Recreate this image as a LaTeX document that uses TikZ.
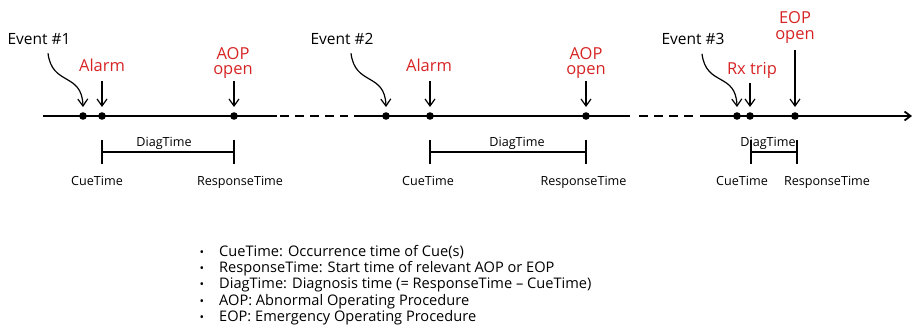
\documentclass[tikz,border=0pt]{standalone}
\usepackage{fontspec}
\setmainfont{Open Sans}
\usetikzlibrary{arrows.meta,calc}
\definecolor{cuered}{RGB}{214,36,36}
\begin{document}
\begin{tikzpicture}[x=1pt,y=-1pt,
  axis/.style={line width=1.8pt},
  gapline/.style={line width=1.8pt, dash pattern=on 8.5pt off 6.5pt},
  dot/.style={circle, fill=black, inner sep=0pt, minimum size=7.6pt},
  pointer/.style={line width=1.2pt, -{Straight Barb[length=7pt,width=10pt]}},
  bracket/.style={line width=1.2pt},
  evtext/.style={inner sep=0pt, font=\fontsize{15.5}{18}\selectfont},
  redtext/.style={inner sep=0pt, text=cuered, align=center, font=\fontsize{16.5}{15.7}\selectfont},
  small/.style={inner sep=0pt, font=\fontsize{12.6}{14}\selectfont},
  listtext/.style={inner sep=0pt, anchor=base west, font=\fontsize{14.6}{16}\selectfont},
  bullet/.style={inner sep=0pt, anchor=base, font=\fontsize{12}{14}\selectfont}
]
\useasboundingbox (0,0) rectangle (914,331);

% time axis: solid stretches joined by dashed gaps
\coordinate (a0) at (43,116);
\coordinate (a1) at (277,116);
\coordinate (a2) at (280,116);
\coordinate (a3) at (348,116);
\coordinate (a4) at (354,116);
\coordinate (a5) at (630,116);
\coordinate (a6) at (639,116);
\coordinate (a7) at (694,116);
\coordinate (a8) at (700,116);
\coordinate (a9) at (912,116);
\draw[axis] (a0) -- (a1);
\draw[gapline] (a2) -- (a3);
\draw[axis] (a4) -- (a5);
\draw[gapline] (a6) -- (a7);
\draw[axis, -{Straight Barb[length=6pt,width=9pt]}] (a8) -- (a9);

% event, cue and response instants
\node[dot] (e1) at (83,116) {};
\node[dot] (c1) at (102,116) {};
\node[dot] (r1) at (234,116) {};
\node[dot] (e2) at (386,116) {};
\node[dot] (c2) at (430,116) {};
\node[dot] (r2) at (586,116) {};
\node[dot] (e3) at (737,116) {};
\node[dot] (c3) at (750,116) {};
\node[dot] (r3) at (795,116) {};

% labels above the axis
\node[evtext, anchor=base] (ev1) at (39,44.3) {Event \#1};
\node[evtext, anchor=base] (ev2) at (342,44.3) {Event \#2};
\node[evtext, anchor=base] (ev3) at (693,44.8) {Event \#3};
\node[redtext, anchor=base] (al1) at (102,71.7) {Alarm};
\node[redtext, anchor=base] (al2) at (429,71.7) {Alarm};
\node[redtext, anchor=south] (ao1) at (233,79) {AOP\\open};
\node[redtext, anchor=south] (ao2) at (586,79) {AOP\\open};
\node[redtext, anchor=base] (rx) at (752,75) {Rx trip};
\node[redtext, anchor=south] (eo) at (795,43.5) {EOP\\open};

% curved pointers from the events
\draw[pointer] ($(ev1.base)+(9,9)$) .. controls +(4,33) and +(-1,-35) .. ([yshift=5pt]e1.north);
\draw[pointer] ($(ev2.base)+(9,9)$) .. controls +(4,33) and +(-1,-35) .. ([yshift=5pt]e2.north);
\draw[pointer] ($(ev3.base)+(9,9)$) .. controls +(4,33) and +(-1,-35) .. ([yshift=5pt]e3.north);

% straight pointers from cues and procedures
\draw[pointer] ($(al1.base -| c1)+(0,9.3)$) -- ([yshift=5pt]c1.north);
\draw[pointer] ($(ao1.south -| r1)+(0,2)$) -- ([yshift=5pt]r1.north);
\draw[pointer] ($(al2.base -| c2)+(0,9.3)$) -- ([yshift=5pt]c2.north);
\draw[pointer] ($(ao2.south -| r2)+(0,2)$) -- ([yshift=5pt]r2.north);
\draw[pointer] ($(rx.base -| c3)+(0,8)$) -- ([yshift=5pt]c3.north);
\draw[pointer] ($(eo.south -| r3)+(0,6.5)$) -- ([yshift=5pt]r3.north);

% diagnosis-time brackets
\coordinate (b1l) at (102,152);
\coordinate (b1r) at (234,152);
\coordinate (b2l) at (430,152);
\coordinate (b2r) at (586,152);
\coordinate (b3l) at (751,152);
\coordinate (b3r) at (797,152);
\foreach \l/\r in {b1l/b1r, b2l/b2r, b3l/b3r} {
  \draw[bracket] (\l) -- (\r);
  \draw[bracket] ([yshift=12pt]\l) -- ([yshift=-12pt]\l);
  \draw[bracket] ([yshift=12pt]\r) -- ([yshift=-12pt]\r);
}
\node[small, anchor=base] (dt1) at (164,146.7) {DiagTime};
\node[small, anchor=base] (dt2) at (517,146.7) {DiagTime};
\node[small, anchor=base] (dt3) at (768,146.7) {DiagTime};
\node[small, anchor=base] (ct1) at (97,185.7) {CueTime};
\node[small, anchor=base] (rt1) at (240,185.7) {ResponseTime};
\node[small, anchor=base] (ct2) at (428,185.7) {CueTime};
\node[small, anchor=base] (rt2) at (583.5,185.7) {ResponseTime};
\node[small, anchor=base] (ct3) at (742,185.7) {CueTime};
\node[small, anchor=base] (rt3) at (827,185.7) {ResponseTime};

% legend
\node[bullet] (m1) at (202,256.5) {•};
\node[bullet] (m2) at (202,272.7) {•};
\node[bullet] (m3) at (202,288.9) {•};
\node[bullet] (m4) at (202,305.1) {•};
\node[bullet] (m5) at (202,321.3) {•};
\node[listtext] (l1) at (219,256.5) {CueTime: Occurrence time of Cue(s)};
\node[listtext] (l2) at (219,272.7) {ResponseTime: Start time of relevant AOP or EOP};
\node[listtext] (l3) at (219,288.9) {DiagTime: Diagnosis time (= ResponseTime – CueTime)};
\node[listtext] (l4) at (219,305.1) {AOP: Abnormal Operating Procedure};
\node[listtext] (l5) at (219,321.3) {EOP: Emergency Operating Procedure};
\end{tikzpicture}
\end{document}
